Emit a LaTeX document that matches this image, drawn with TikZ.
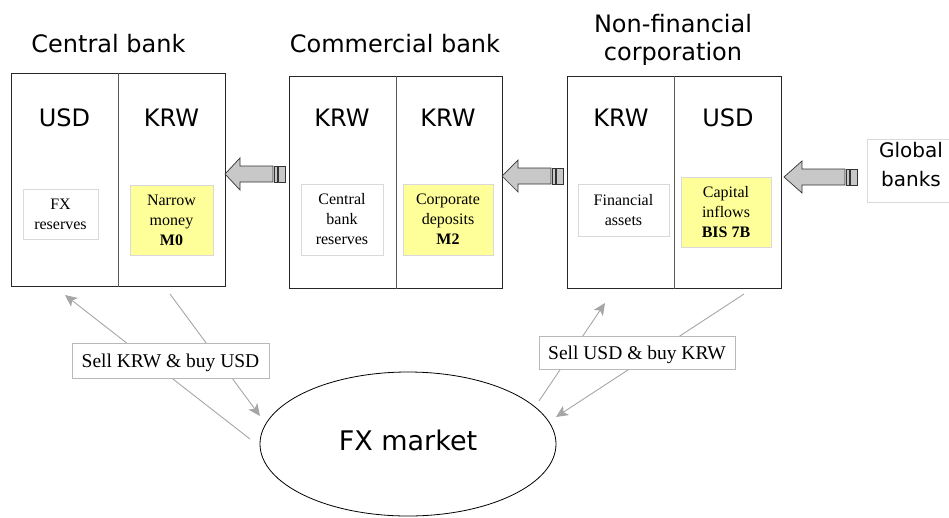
\documentclass[tikz,border=0pt]{standalone}
\usepackage{fontspec}
\setmainfont{Liberation Serif}
\newfontfamily\dejavu{DejaVu Sans}
\usetikzlibrary{arrows.meta,shapes.geometric}
\definecolor{moneyyellow}{RGB}{255,255,153}
\definecolor{flowgray}{RGB}{166,166,166}
\definecolor{arrowfill}{RGB}{200,200,200}
% striped block arrow pointing left: tip x, centre y, head back x, tail x
\newcommand\stripedarrow[4]{%
  \draw[blockarrow] (#1,#2) -- (#3,{#2-16}) -- (#3,{#2-8}) -- ({#4-12},{#2-8})
    -- ({#4-12},{#2+8}) -- (#3,{#2+8}) -- (#3,{#2+16}) -- cycle;
  \draw[blockarrow] ({#4-10.5},{#2-8}) rectangle ({#4-8},{#2+8});
  \draw[blockarrow] ({#4-6.5},{#2-8}) rectangle (#4,{#2+8});
}
\begin{document}
\begin{tikzpicture}[x=1pt,y=-1pt,
  sector/.style={draw=black!85, line width=1pt, inner sep=0pt},
  divider/.style={draw=black!65, line width=0.8pt},
  heading/.style={font=\dejavu\fontsize{24}{28}\selectfont, align=center, inner sep=0pt},
  currency/.style={font=\dejavu\fontsize{24}{28}\selectfont, inner sep=0pt},
  account/.style={draw=black!15, line width=0.8pt, fill=white, inner sep=0pt,
    align=center, font=\fontsize{16}{20}\selectfont},
  money/.style={account, fill=moneyyellow},
  trade/.style={draw=black!28, line width=0.8pt, fill=white, inner sep=0pt,
    text depth=0pt, font=\fontsize{19.5}{22}\selectfont},
  flow/.style={draw=flowgray, line width=0.9pt,
    -{Stealth[length=12pt,width=11pt,inset=3pt]}},
  blockarrow/.style={draw=black!80, fill=arrowfill, line width=0.7pt, line join=miter}]
\useasboundingbox (0,0) rectangle (949,517);

% balance sheets
\node[sector, minimum width=214, minimum height=213] (cb) at (118,179.5) {};
\draw[divider] (cb.north) -- (cb.south);
\node[sector, minimum width=213, minimum height=212] (comb) at (395.5,182) {};
\draw[divider] ([xshift=0.5pt]comb.north) -- ([xshift=0.5pt]comb.south);
\node[sector, minimum width=214, minimum height=212] (nfc) at (674,182) {};
\draw[divider] (nfc.north) -- (nfc.south);

% sector titles
\node[heading, anchor=base] (cbtitle) at (108.5,52) {Central bank};
\node[heading, anchor=base] (combtitle) at (395,52) {Commercial bank};
\node[heading] (nfctitle) at (673,39.8) {Non-financial\\corporation};

% currency columns
\node[currency] (cbusd) at (64.5,117.5) {USD};
\node[currency] (cbkrw) at (171.5,117.5) {KRW};
\node[currency] (combkrwa) at (342,117.5) {KRW};
\node[currency] (combkrwb) at (448,117.5) {KRW};
\node[currency] (nfckrw) at (621,117.5) {KRW};
\node[currency] (nfcusd) at (728,117.5) {USD};

% balance sheet items
\node[account, minimum width=75, minimum height=50] (fxres) at (60.5,214) {FX\\reserves};
\node[money, minimum width=83, minimum height=70] (m0) at (171.5,220) {Narrow\\money\\\textbf{M0}};
\node[account, minimum width=82, minimum height=71] (cbres) at (342,219.5) {Central\\bank\\reserves};
\node[money, minimum width=90, minimum height=71] (m2) at (448,219.5) {Corporate\\deposits\\\textbf{M2}};
\node[account, minimum width=91, minimum height=52] (finassets) at (623.5,210) {Financial\\assets};
\node[money, minimum width=90, minimum height=70] (inflows) at (726,212) {Capital\\inflows\\\textbf{BIS 7B}};

% global banks
\node[draw=black!15, line width=0.8pt, inner sep=0pt, minimum width=88, minimum height=63,
  font=\dejavu\fontsize{20}{29}\selectfont, align=center, text depth=13pt]
  (global) at (911,170.5) {Global\\banks};

% funding flows between sectors
\stripedarrow{225}{174}{240}{285}
\stripedarrow{502}{176}{518}{563}
\stripedarrow{784}{177}{802}{857}

% FX market
\node[ellipse, draw=black, line width=0.8pt, minimum width=296, minimum height=144,
  inner sep=0pt, font=\dejavu\fontsize{27}{32}\selectfont, text depth=8pt]
  (fx) at (408,444) {FX market};

% trades through the FX market
\coordinate (cbout) at (170,294);
\coordinate (cbin) at (65,295);
\coordinate (fxincb) at (260,416);
\coordinate (fxoutcb) at (250,439);
\coordinate (nfcout) at (744,294);
\coordinate (nfcin) at (605,303);
\coordinate (fxinnfc) at (556,417);
\coordinate (fxoutnfc) at (539,401);
\draw[flow] (fxoutcb) -- (cbin);
\draw[flow] (cbout) -- (fxincb);
\draw[flow] (fxoutnfc) -- (nfcin);
\draw[flow] (nfcout) -- (fxinnfc);

\node[trade, minimum width=197, minimum height=35] (sellkrw) at (170.5,360.5) {Sell KRW \& buy USD};
\node[trade, minimum width=196, minimum height=33] (sellusd) at (637,352.5) {Sell USD \& buy KRW};
\end{tikzpicture}
\end{document}
